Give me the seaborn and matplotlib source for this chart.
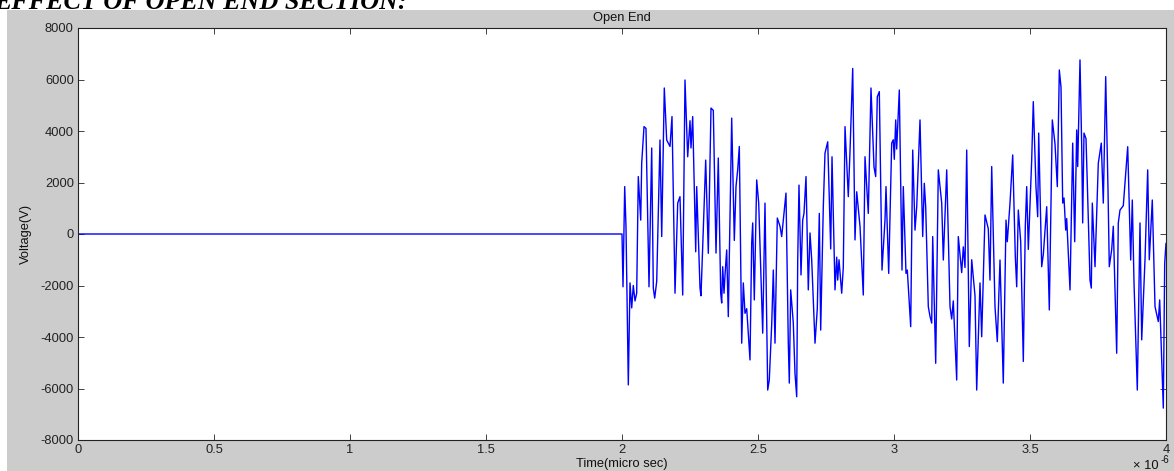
import matplotlib
matplotlib.use("Agg")
import matplotlib.pyplot as plt
import pandas as pd
import seaborn as sns
from matplotlib.patches import Rectangle

# Voltage at the open end of the line (time in microseconds, voltage in V)
time_us = [
    0.0, 2.0, 2.0037, 2.0099, 2.0147, 2.0232, 2.0294, 2.0357, 2.0415, 2.0478,
    2.0540, 2.0599, 2.0688, 2.0724, 2.0809, 2.0882, 2.0993, 2.1092, 2.1151, 2.1202,
    2.1276, 2.1397, 2.1460, 2.1555, 2.1643, 2.1765, 2.1838, 2.1949, 2.2048, 2.2132,
    2.2232, 2.2316, 2.2415, 2.2500, 2.2537, 2.2599, 2.2710, 2.2746, 2.2868, 2.2904,
    2.3077, 2.3173, 2.3272, 2.3357, 2.3456, 2.3540, 2.3629, 2.3665, 2.3702, 2.3750,
    2.3787, 2.3849, 2.3908, 2.4033, 2.4129, 2.4191, 2.4254, 2.4313, 2.4401, 2.4460,
    2.4522, 2.4585, 2.4706, 2.4768, 2.4805, 2.4864, 2.4952, 2.5026, 2.5173, 2.5257,
    2.5357, 2.5415, 2.5504, 2.5563, 2.5625, 2.5710, 2.5809, 2.5871, 2.6029, 2.6114,
    2.6151, 2.6202, 2.6298, 2.6360, 2.6423, 2.6460, 2.6507, 2.6581, 2.6643, 2.6691,
    2.6765, 2.6849, 2.6912, 2.6974, 2.7096, 2.7180, 2.7254, 2.7305, 2.7401, 2.7463,
    2.7563, 2.7673, 2.7721, 2.7831, 2.7893, 2.7930, 2.7978, 2.8077, 2.8136, 2.8199,
    2.8320, 2.8382, 2.8482, 2.8566, 2.8629, 2.8750, 2.8871, 2.8934, 2.9055, 2.9154,
    2.9265, 2.9327, 2.9386, 2.9460, 2.9559, 2.9669, 2.9706, 2.9805, 2.9915, 2.9974,
    3.0011, 3.0063, 3.0099, 3.0195, 3.0294, 3.0342, 3.0441, 3.0489, 3.0614, 3.0688,
    3.0772, 3.0835, 3.0956, 3.1055, 3.1114, 3.1165, 3.1261, 3.1324, 3.1386, 3.1423,
    3.1533, 3.1629, 3.1754, 3.1813, 3.1938, 3.2059, 3.2121, 3.2180, 3.2305, 3.2364,
    3.2489, 3.2548, 3.2610, 3.2673, 3.2768, 3.2857, 3.2978, 3.3040, 3.3162, 3.3224,
    3.3346, 3.3467, 3.3529, 3.3592, 3.3713, 3.3798, 3.3897, 3.4018, 3.4118, 3.4165,
    3.4265, 3.4364, 3.4460, 3.4511, 3.4570, 3.4658, 3.4754, 3.4827, 3.4879, 3.4938,
    3.5062, 3.5121, 3.5221, 3.5283, 3.5320, 3.5430, 3.5489, 3.5614, 3.5710, 3.5820,
    3.5919, 3.6004, 3.6078, 3.6140, 3.6202, 3.6250, 3.6313, 3.6349, 3.6471, 3.6570,
    3.6643, 3.6717, 3.6754, 3.6838, 3.6901, 3.6937, 3.6985, 3.7059, 3.7107, 3.7206,
    3.7254, 3.7291, 3.7390, 3.7511, 3.7621, 3.7695, 3.7783, 3.7868, 3.7915, 3.8004,
    3.8062, 3.8187, 3.8246, 3.8309, 3.8430, 3.8592, 3.8702, 3.8761, 3.8824, 3.8945,
    3.9044, 3.9107, 3.9228, 3.9327, 3.9386, 3.9496, 3.9596, 3.9717, 3.9768, 3.9901,
    3.9952, 4.0,
]
voltage = [
    0, 0, -2050, 1840, 280, -5860, -1900, -2870, -2000, -2600,
    -2300, 2230, 540, 2750, 4170, 4100, -2050, 3340, -2100, -2490,
    -1840, 3650, -100, 5670, 3650, 3400, 4560, -2300, 1200, 1450,
    -2370, 5980, 3000, 4400, 3340, 4560, -690, 1840, -2100, -2400,
    2870, -750, 4890, 4800, -740, 2950, -2300, -2680, -1270, -2300,
    -1600, -620, -3210, 4500, -250, 1840, 2500, 3400, -4240, -1900,
    -3080, -2900, -4890, -360, 430, -2560, 2100, 1200, -3850, 1200,
    -6060, -5670, -3500, -1400, -4240, 620, 300, -100, 1590, -4240,
    -5790, -2170, -3460, -5410, -6320, -1010, 1900, -1590, 540, 800,
    2230, -2170, 40, -1000, -4240, -2900, 800, -3730, 1060, 3140,
    3580, -580, 3000, -2170, -900, -1790, -1000, -2300, -1300, 4170,
    1450, 3200, 6430, -230, 1640, 300, -2370, 3000, 800, 5670,
    2600, 2230, 5330, 5530, -1400, 540, 1840, -1530, 3530, 3660,
    2900, 4430, 3300, 5590, -1400, 1840, -1530, -1400, -3600, 3260,
    150, 1060, 4430, -100, 1970, 1060, -2820, -3200, -3460, -100,
    -5020, 2490, 1200, -1010, 2490, -2820, -3300, -2600, -5670, -100,
    -1500, -500, -1300, 3260, -4370, -1000, -2400, -6060, -1900, -3990,
    740, 200, -1790, 2620, -2820, -4180, -1010, -5790, 540, -300,
    1200, 3070, -880, -2050, 930, -300, -4950, 280, 1840, -600,
    2870, 5140, 1800, 670, 3920, -1270, -800, 1060, -2950, 4430,
    3500, 1840, 6370, 5700, 1200, 1400, 150, 600, -2170, 3530,
    -300, 4040, 2620, 6760, 3390, 430, 3920, 3700, 1970, -1790,
    -2100, 1200, -1270, 2750, 3530, 1200, 6110, 1710, -1270, -600,
    300, -4630, 430, 930, 1100, 3390, -1010, 1320, -1900, -6060,
    430, -4110, -1000, 2490, -1000, 1320, -2820, -3400, -2560, -6760,
    -1140, -360,
]

x_ticks = [0, 0.5, 1, 1.5, 2, 2.5, 3, 3.5, 4]
x_tick_labels = ["0", "0.5", "1", "1.5", "2", "2.5", "3", "3.5", "4"]
y_ticks = [-8000, -6000, -4000, -2000, 0, 2000, 4000, 6000, 8000]

sns.set_theme(style="white")
plt.rcParams["font.family"] = ["Liberation Sans", "DejaVu Sans"]

W, H = 1174, 471
fig = plt.figure(figsize=(W / 100, H / 100), dpi=100, facecolor="white")

# grey figure panel and the document heading above it
fig.patches.append(Rectangle((7 / W, 0), 1, 1 - 10 / H, transform=fig.transFigure,
                             facecolor="#cccccc", edgecolor="none", zorder=-1))
fig.text(-6 / W, 1 - 9 / H, "EFFECT OF OPEN END SECTION:", family="Liberation Serif",
         weight="bold", style="italic", fontsize=18.8, va="baseline", ha="left",
         color="black", zorder=-2)

ax = fig.add_axes([78 / W, 1 - 440 / H, (1166 - 78) / W, (440 - 28) / H])
ax.set_facecolor("white")

df = pd.DataFrame({"time": time_us, "voltage": voltage})
sns.lineplot(data=df, x="time", y="voltage", ax=ax, color="#0000ff",
             linewidth=1.0, sort=False, estimator=None)

ax.set_xlim(0, 4)
ax.set_ylim(-8000, 8000)
ax.set_xticks(x_ticks)
ax.set_xticklabels(x_tick_labels)
ax.set_yticks(y_ticks)
ax.set_yticklabels([str(v) for v in y_ticks])
ax.tick_params(direction="in", length=4, width=0.6, colors="#222222",
               labelsize=9.3, top=True, right=True, bottom=True, left=True,
               pad=3)
for side in ax.spines.values():
    side.set_color("#222222")
    side.set_linewidth(0.8)

ax.set_title("Open End", fontsize=9.3, color="#111111", pad=5)
ax.set_xlabel("Time(micro sec)", fontsize=9.3, color="#111111", labelpad=1)
ax.set_ylabel("Voltage(V)", fontsize=9.3, color="#111111", labelpad=6)

# axis multiplier in the lower right corner
fig.text(1133 / W, 1 - 466 / H, "\u00d7 10", fontsize=9.3, color="#111111",
         va="center", ha="left")
fig.text(1161 / W, 1 - 460 / H, "-6", fontsize=7, color="#111111",
         va="center", ha="left")

fig.savefig("out.png", dpi=100, facecolor="white")
